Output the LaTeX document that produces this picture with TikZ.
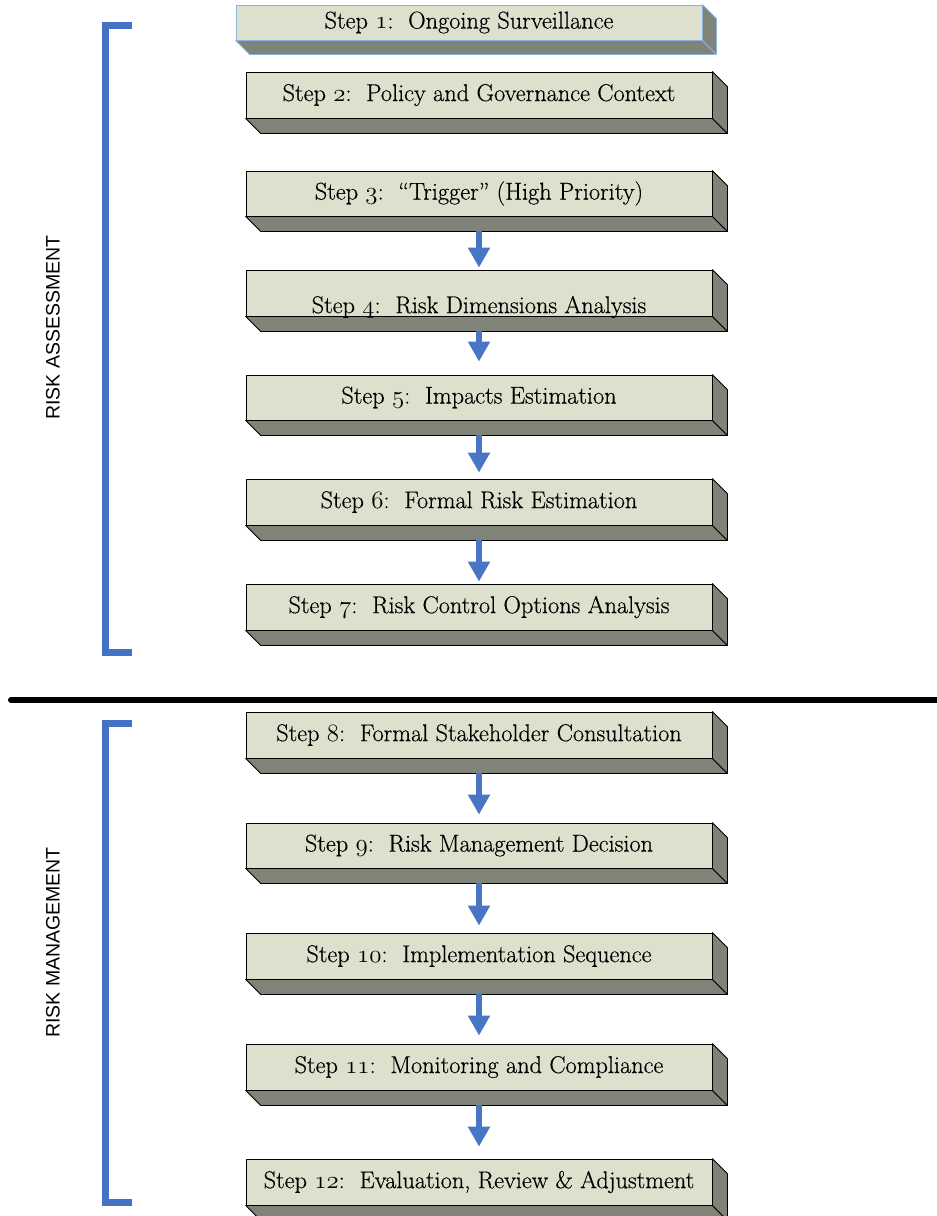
\documentclass[tikz,border=0pt]{standalone}
\usepackage{fontspec}
\newfontfamily\labelsans{Liberation Sans}
\newfontfamily\stepfont{Latin Modern Roman}[FakeBold=0.4,Ligatures=TeX]
\usetikzlibrary{arrows.meta}
\definecolor{face}{RGB}{221,224,204}
\definecolor{sidegrey}{RGB}{128,131,120}
\definecolor{flowblue}{RGB}{72,118,196}
\definecolor{bracketblue}{RGB}{68,114,196}
\definecolor{lightedge}{RGB}{141,179,226}
\newcommand\boxsides[3]{%
  \filldraw[side,draw=#2] (#1.south west) -- (#1.south east) -- ++(#3,#3) -- ([shift={(#3,#3)}]#1.south west) -- cycle;
  \filldraw[side,draw=#2] (#1.north east) -- ++(#3,#3) -- ([shift={(#3,#3)}]#1.south east) -- (#1.south east) -- cycle;}
\newcommand\stepnum[1]{{\fontencoding{OML}\fontfamily{cmm}\fontseries{m}\fontshape{it}\selectfont #1}}
\begin{document}
\begin{tikzpicture}[x=1pt,y=-1pt,
  stepbox/.style={draw=black, line width=0.8pt, fill=face, minimum width=466pt, minimum height=46pt, inner sep=0pt, font=\stepfont\fontsize{24.3}{28}\selectfont},
  steptext/.style={inner sep=0pt, font=\stepfont\fontsize{24.3}{28}\selectfont},
  side/.style={fill=sidegrey, line width=0.8pt, line join=round},
  flow/.style={draw=flowblue, line width=6.5pt, -{Triangle[width=21pt,length=20pt]}},
  bracket/.style={draw=bracketblue, line width=7pt, line cap=butt, line join=miter},
  divider/.style={draw=black, line width=6pt, line cap=round},
  sidelabel/.style={rotate=90, inner sep=0pt, font=\labelsans\fontsize{19.5}{22}\selectfont}]
\useasboundingbox (0,0) rectangle (937,1216);
\fill[white] (0,0) rectangle (937,1216);

% brackets
\coordinate (ta) at (132,25.5); \coordinate (tb) at (105.5,25.5);
\coordinate (tc) at (105.5,652); \coordinate (td) at (132,652);
\draw[bracket] (ta) -- (tb) -- (tc) -- (td);
\coordinate (ba) at (132,723); \coordinate (bb) at (105.5,723);
\coordinate (bc) at (105.5,1202.5); \coordinate (bd) at (132,1202.5);
\draw[bracket] (ba) -- (bb) -- (bc) -- (bd);

% divider
\coordinate (dl) at (11,700); \coordinate (dr) at (940,700);
\draw[divider] (dl) -- (dr);

% side labels
\node[sidelabel] (la) at (53,327.5) {RISK ASSESSMENT};
\node[sidelabel] (lm) at (53,942.5) {RISK MANAGEMENT};

% boxes
\node[stepbox, draw=lightedge, minimum height=35pt] (s1) at (469,22.5) {Step \stepnum{1}:\ \ Ongoing Surveillance};
\boxsides{s1}{lightedge}{14}
\node[stepbox] (s2) at (479,95) {Step \stepnum{2}:\ \ Policy and Governance Context};
\boxsides{s2}{black}{15}
\node[stepbox, minimum height=45pt] (s3) at (479,193.5) {Step \stepnum{3}:\ \ “Trigger” (High Priority)};
\boxsides{s3}{black}{15}
\node[stepbox] (s4) at (479,293) {};
\boxsides{s4}{black}{15}
\node[steptext] (s4t) at ([yshift=-14pt]s4.center) {Step \stepnum{4}:\ \ Risk Dimensions Analysis};
\node[stepbox, minimum height=45pt] (s5) at (479,397.5) {Step \stepnum{5}:\ \ Impacts Estimation};
\boxsides{s5}{black}{15}
\node[stepbox] (s6) at (479,502) {Step \stepnum{6}:\ \ Formal Risk Estimation};
\boxsides{s6}{black}{15}
\node[stepbox] (s7) at (479,607) {Step \stepnum{7}:\ \ Risk Control Options Analysis};
\boxsides{s7}{black}{15}
\node[stepbox] (s8) at (479,735) {Step \stepnum{8}:\ \ Formal Stakeholder Consultation};
\boxsides{s8}{black}{15}
\node[stepbox, minimum height=45pt] (s9) at (479,845.5) {Step \stepnum{9}:\ \ Risk Management Decision};
\boxsides{s9}{black}{15}
\node[stepbox] (s10) at (479,956) {Step \stepnum{10}:\ \ Implementation Sequence};
\boxsides{s10}{black}{15}
\node[stepbox] (s11) at (479,1067) {Step \stepnum{11}:\ \ Monitoring and Compliance};
\boxsides{s11}{black}{15}
\node[stepbox] (s12) at (479,1182) {Step \stepnum{12}:\ \ Evaluation, Review \& Adjustment};
\boxsides{s12}{black}{15}

% arrows
\draw[flow] ([yshift=-15pt]s3.south) -- ([yshift=2pt]s4.north);
\draw[flow] ([yshift=-15pt]s4.south) -- ([yshift=13pt]s5.north);
\draw[flow] ([yshift=-15pt]s5.south) -- ([yshift=6pt]s6.north);
\draw[flow] ([yshift=-15pt]s6.south) -- ([yshift=2pt]s7.north);
\draw[flow] ([yshift=-15pt]s8.south) -- ([yshift=8pt]s9.north);
\draw[flow] ([yshift=-15pt]s9.south) -- ([yshift=7pt]s10.north);
\draw[flow] ([yshift=-15pt]s10.south) -- ([yshift=8pt]s11.north);
\draw[flow] ([yshift=-15pt]s11.south) -- ([yshift=12pt]s12.north);
\end{tikzpicture}
\end{document}
